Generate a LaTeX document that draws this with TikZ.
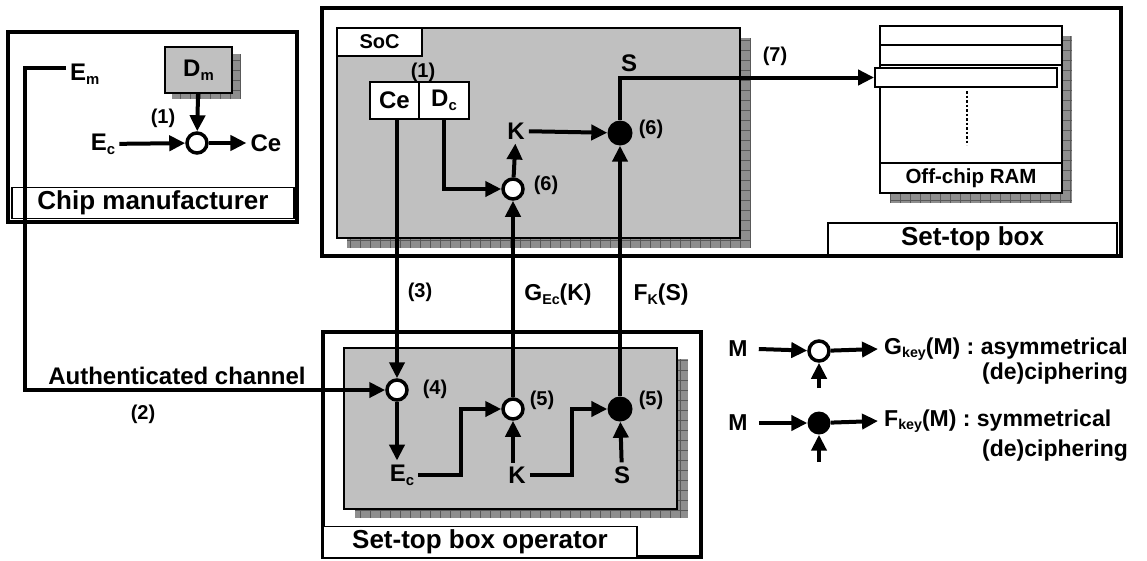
\documentclass[tikz,border=0pt]{standalone}
\usepackage{fontspec}
\setmainfont{Liberation Sans}
\usepackage{tikz}
\usetikzlibrary{arrows.meta,positioning,calc}
\definecolor{chipgray}{HTML}{C0C0C0}
\definecolor{shadowgray}{HTML}{8E8E8E}
\newcommand{\sbs}[1]{\raisebox{-.3ex}{\fontsize{.62em}{.7em}\selectfont #1}}

\tikzset{
  frame/.style={draw, line width=4pt},
  tagbox/.style={draw, line width=1.5pt, fill=white, inner sep=0pt, font=\fontsize{26}{28}\selectfont\bfseries},
  wire/.style={line width=4pt},
  arr/.style={wire, -{Triangle[length=16pt,width=15pt]}},
  asym/.style={circle, draw, line width=3.5pt, fill=white, minimum size=20pt, inner sep=0pt},
  sym/.style={circle, fill=black, minimum size=25pt, inner sep=0pt},
  sig/.style={font=\fontsize{24}{26}\selectfont\bfseries, inner sep=4pt},
  num/.style={font=\fontsize{20}{22}\selectfont\bfseries, inner sep=0pt},
  lgd/.style={font=\fontsize{23}{25}\selectfont\bfseries, inner sep=1pt},
  cell/.style={draw, line width=1.8pt, fill=white, inner sep=0pt},
  shadowgrid/.style={black!65, line width=.6pt, step=10pt}
}

\begin{document}
\begin{tikzpicture}[x=1pt,y=-1pt]
\useasboundingbox (0,0) rectangle (1147,560);

% chip manufacturer
\draw[frame] (8,32) rectangle (297,222);
\node[tagbox, minimum width=282, minimum height=31] (cmtag) at (153,203) {Chip manufacturer};
\fill[shadowgray] (172,54) rectangle (240,99);
\draw[shadowgrid] (172,99) grid (240,54);
\node[cell, fill=chipgray, minimum width=67, minimum height=46, sig] (dm) at (198.5,70) {D\sbs{m}};
\node[sig, anchor=west] (em) at (66,74) {E\sbs{m}};
\node[sig] (ec) at (103,144) {E\sbs{c}};
\node[asym] (c1) at (197,143) {};
\node[sig] (ce) at (266,143) {Ce};
\node[num] (n1a) at (163,118) {(1)};
\draw[arr] (dm) -- (c1);
\draw[arr] (ec) -- (c1);
\draw[arr] (c1) -- (ce);

% set-top box
\draw[frame] (322,8) rectangle (1121,256);
\node[tagbox, minimum width=289, minimum height=32] (stbtag) at (972.5,239) {Set-top box};
\fill[shadowgray] (347,38) rectangle (750,248);
\draw[shadowgrid] (347,248) grid (750,38);
\draw[line width=1.8pt, fill=chipgray] (337,28) rectangle (740,238);
\node[cell, minimum width=85, minimum height=28, font=\fontsize{20}{22}\selectfont\bfseries] (soc) at (379.5,42) {SoC};
\node[cell, minimum width=49, minimum height=37, sig, inner sep=0pt] (ce2) at (394.5,100.5) {Ce};
\node[cell, minimum width=50, minimum height=37, sig, inner sep=0pt] (dc2) at (444,100.5) {D\sbs{c}};
\node[num] (n1b) at (423,72) {(1)};
\node[sig] (ks) at (516,131) {K};
\node[sig] (ss) at (629,63) {S};
\node[asym] (c6) at (513,189) {};
\node[sym] (f6) at (620,133) {};
\node[num] (n6a) at (546,185) {(6)};
\node[num] (n6b) at (651,129) {(6)};
\node[num] (n7) at (775,56) {(7)};

% off-chip RAM
\fill[shadowgray] (890,36) rectangle (1072,203);
\draw[shadowgrid] (890,203) grid (1072,36);
\draw[line width=1.8pt, fill=white] (880,26) rectangle (1062,193);
\draw[line width=1.8pt] (880,45) -- (1062,45);
\draw[line width=1.8pt] (880,65) -- (1062,65);
\node[cell, minimum width=182, minimum height=19] (ramrow) at (966,77.5) {};
\draw[line width=2.5pt, dotted] (967,91) -- (967,145);
\node[cell, minimum width=182, minimum height=30, font=\fontsize{20.5}{22}\selectfont\bfseries] (ramtag) at (971,178) {Off-chip RAM};

% set-top box operator
\draw[frame] (323,332) rectangle (701,557);
\node[tagbox, minimum width=314, minimum height=31] (optag) at (480,542) {Set-top box operator};
\fill[shadowgray] (355,359) rectangle (688,518);
\draw[shadowgrid] (355,518) grid (688,359);
\draw[line width=1.8pt, fill=chipgray] (344,348) rectangle (677,509);
\node[asym] (c4) at (397,390) {};
\node[asym] (c5) at (513,409) {};
\node[sym] (f5) at (620,409) {};
\node[sig] (ec2) at (402,475) {E\sbs{c}};
\node[sig] (ko) at (517,475) {K};
\node[sig] (so) at (622,475) {S};
\node[num] (n4) at (435,389) {(4)};
\node[num] (n5a) at (542,400) {(5)};
\node[num] (n5b) at (651,400) {(5)};

% wires
\coordinate (bend) at (25,390);
\draw[arr] ([yshift=6pt]em.west) -| (bend) -- (c4);
\node[font=\fontsize{24}{26}\selectfont\bfseries] (auth) at (177,376) {Authenticated channel};
\node[num] (n2) at (143,414) {(2)};
\draw[arr] (c4 |- ce2.south) -- (c4);
\draw[arr] (dc2.south) |- (c6);
\draw[arr] (c6) -- (ks);
\draw[arr] (ks) -- (f6);
\draw[arr] (f6) |- (ramrow);
\draw[arr] (c5) -- (c6);
\draw[arr] (f5) -- (f6);
\draw[arr] (c4) -- (c4 |- ec2.north);
\draw[arr] (ec2.east) -- ++(43,0) |- (c5);
\draw[arr] (c5 |- ko.north) -- (c5);
\draw[arr] (ko.east) -- ++(42,0) |- (f5);
\draw[arr] (so) -- (f5);
\node[num] (n3) at (420,292) {(3)};
\node[font=\fontsize{23}{25}\selectfont\bfseries] (glab) at (558,295) {G\sbs{Ec}(K)};
\node[font=\fontsize{23}{25}\selectfont\bfseries] (flab) at (661,295) {F\sbs{K}(S)};

% legend
\node[lgd] (m1) at (738,349) {M};
\node[asym] (lg1) at (819,351) {};
\coordinate (lgin1) at (819,388);
\node[lgd, anchor=west] (gkey) at (883,349) {G\sbs{key}(M) : asymmetrical};
\node[lgd] (deci1) at (1055,374) {(de)ciphering};
\draw[arr] ([xshift=10pt]m1.east) -- (lg1);
\draw[arr] (lg1) -- ([xshift=-5pt]gkey.west);
\draw[arr] (lgin1) -- (lg1);
\node[lgd] (m2) at (738,423) {M};
\node[sym, minimum size=23pt] (lg2) at (819,423) {};
\coordinate (lgin2) at (819,462);
\node[lgd, anchor=west] (fkey) at (883,421) {F\sbs{key}(M) : symmetrical};
\node[lgd] (deci2) at (1055,451) {(de)ciphering};
\draw[arr] ([xshift=10pt]m2.east) -- (lg2);
\draw[arr] (lg2) -- ([xshift=-5pt]fkey.west);
\draw[arr] (lgin2) -- (lg2);
\end{tikzpicture}
\end{document}
